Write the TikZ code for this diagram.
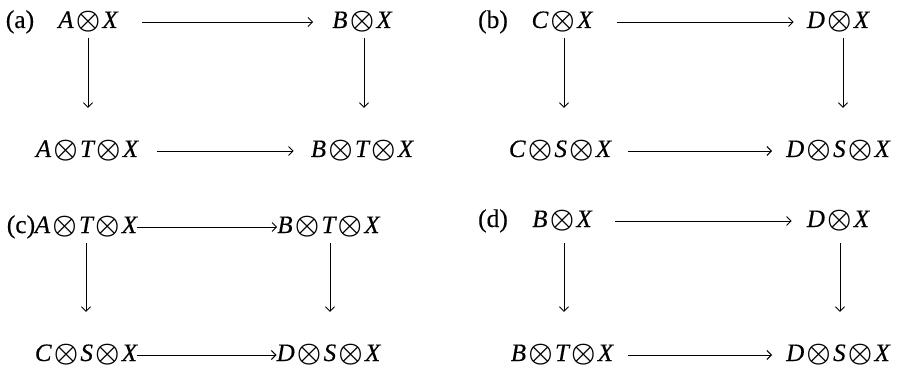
\documentclass[tikz,border=0pt]{standalone}
\usepackage{bm}
\usepackage{fontspec}
\usepackage{graphicx}
\setmainfont{Liberation Serif}[FakeBold=0.3]
\usetikzlibrary{arrows.meta}
% tensor sign, a little larger and heavier than the math one, set tight
\newcommand\tp{\kern2.2pt\raisebox{-0.7pt}{\scalebox{1.1}{$\bm{\otimes}$}}\kern2.2pt}
\begin{document}
\begin{tikzpicture}[x=1pt,y=-1pt,
  obj/.style={anchor=base,inner sep=0pt,text height=14pt,text depth=2pt,
    font=\fontsize{25}{29}\selectfont\itshape},
  tag/.style={anchor=base,inner sep=0pt,font=\fontsize{25.5}{29}\selectfont},
  arr/.style={line width=0.9pt,-{Straight Barb[length=4.5pt,width=9pt,line width=0.9pt]}}]
\useasboundingbox (0,0) rectangle (898,369);

% (a)
\node[tag] (la) at (20,28) {(a)};
\node[obj] (a1) at (88,28) {A\tp X};
\node[obj] (a2) at (362,28) {B\tp X};
\node[obj] (a3) at (87,157) {A\tp T\tp X};
\node[obj] (a4) at (362,157) {B\tp T\tp X};
\draw[arr,shorten <=24pt,shorten >=19pt] (a1) -- (a2);
\draw[arr,shorten <=19pt,shorten >=17pt] (a3) -- (a4);
\draw[arr,shorten <=8pt,shorten >=35pt] (a1.south) -- (a1.south |- a3.north);
\draw[arr,shorten <=8pt,shorten >=35pt] ([xshift=2pt]a2.south) -- ([xshift=2pt]a2.south |- a4.north);

% (b)
\node[tag] (lb) at (493,28) {(b)};
\node[obj] (b1) at (562,28) {C\tp X};
\node[obj] (b2) at (838,28) {D\tp X};
\node[obj] (b3) at (560,157) {C\tp S\tp X};
\node[obj] (b4) at (838,157) {D\tp S\tp X};
\draw[arr,shorten <=24pt,shorten >=13pt] (b1) -- (b2);
\draw[arr,shorten <=17pt,shorten >=14pt] (b3) -- (b4);
\draw[arr,shorten <=8pt,shorten >=35pt] ([xshift=2pt]b1.south) -- ([xshift=2pt]b1.south |- b3.north);
\draw[arr,shorten <=8pt,shorten >=35pt] ([xshift=5pt]b2.south) -- ([xshift=5pt]b2.south |- b4.north);

% (c)
\node[tag] (lc) at (21,233) {(c)};
\node[obj] (c1) at (86,233) {A\tp T\tp X};
\node[obj] (c2) at (328.5,233) {B\tp T\tp X};
\node[obj] (c3) at (86,361) {C\tp S\tp X};
\node[obj] (c4) at (328.5,361) {D\tp S\tp X};
\draw[arr] (c1) -- (c2);
\draw[arr] (c3) -- (c4);
\draw[arr,shorten <=8pt,shorten >=35pt] (c1.south) -- (c1.south |- c3.north);
\draw[arr,shorten <=8pt,shorten >=35pt] ([xshift=1.5pt]c2.south) -- ([xshift=1.5pt]c2.south |- c4.north);

% (d)
\node[tag] (ld) at (493,227) {(d)};
\node[obj] (d1) at (562,227) {B\tp X};
\node[obj] (d2) at (838,227) {D\tp X};
\node[obj] (d3) at (562,361) {B\tp T\tp X};
\node[obj] (d4) at (838,361) {D\tp S\tp X};
\draw[arr,shorten <=23pt,shorten >=15pt] (d1) -- (d2);
\draw[arr,shorten <=15pt,shorten >=14pt] (d3) -- (d4);
\draw[arr,shorten <=14pt,shorten >=35pt] ([xshift=2pt]d1.south) -- ([xshift=2pt]d1.south |- d3.north);
\draw[arr,shorten <=14pt,shorten >=35pt] ([xshift=2pt]d2.south) -- ([xshift=2pt]d2.south |- d4.north);
\end{tikzpicture}
\end{document}
